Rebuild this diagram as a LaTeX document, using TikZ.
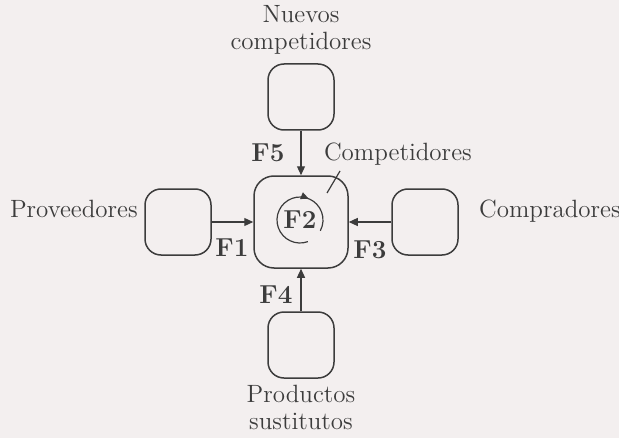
\documentclass[tikz,border=0pt]{standalone}
\usetikzlibrary{arrows.meta,decorations.markings}
\definecolor{papel}{HTML}{F3EFEF}
\definecolor{tinta}{HTML}{3C3C3C}
\tikzset{
  fuerza box/.style={draw=tinta, line width=0.75pt, rounded corners=8pt, minimum width=33pt, minimum height=33pt, inner sep=0pt},
  centro box/.style={fuerza box, rounded corners=10pt, minimum width=47pt, minimum height=46pt},
  flecha/.style={draw=tinta, line width=0.6pt, -{Triangle[length=4.5pt,width=4pt]}},
  etiqueta/.style={font=\fontsize{13}{14}\selectfont\bfseries},
}

\begin{document}
\begin{tikzpicture}[x=0.5pt, y=-0.5pt, every node/.style={font=\fontsize{12.5}{13.5}\selectfont, text=tinta}]
  \fill[papel] (0,0) rectangle (619,438);
  \useasboundingbox (0,0) rectangle (619,438);
  % las cinco fuerzas
  \node[centro box] (centro)   at (301,222) {};
  \node[fuerza box] (nuevos)   at (301,97)  {};
  \node[fuerza box] (prov)     at (178,222) {};
  \node[fuerza box] (compr)    at (425,222) {};
  \node[fuerza box] (sust)     at (301,345) {};
  \draw[flecha] (nuevos.south) -- (centro.north);
  \draw[flecha] (prov.east)    -- (centro.west);
  \draw[flecha] (compr.west)   -- (centro.east);
  \draw[flecha] (sust.north)   -- (centro.south);
  % textos
  \node[align=center] (t-nuevos) at (301,30)  {Nuevos\\competidores};
  \node[align=center] (t-sust)   at (301,407) {Productos\\sustitutos};
  \node[anchor=base west] (t-prov)  at (3,217)   {Proveedores};
  \node[anchor=base west] (t-compr) at (472,217) {Compradores};
  \node[anchor=base west] (t-comp)  at (317,161) {Competidores};
  \coordinate (comp-a) at (340,171);
  \coordinate (comp-b) at (327,193);
  \draw[tinta, line width=0.6pt] (comp-a) -- (comp-b);
  \node[etiqueta, anchor=base] (f5) at (268,162) {F5};
  \node[etiqueta, anchor=base] (f1) at (232,256) {F1};
  \node[etiqueta, anchor=base] (f3) at (370,258) {F3};
  \node[etiqueta, anchor=base] (f4) at (276,303) {F4};
  \node[etiqueta] (f2) at (300,220) {F2};
  \draw[tinta, line width=0.6pt, postaction={decorate},
        decoration={markings, mark=at position 0.7 with {\arrow{Triangle[length=4pt,width=3.5pt]}}}]
    (f2.center) ++(-70:11.5pt) arc[start angle=-70, end angle=-388, radius=11.5pt];
\end{tikzpicture}
\end{document}
